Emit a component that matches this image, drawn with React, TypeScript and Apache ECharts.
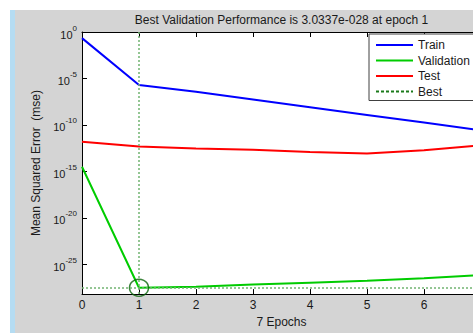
import React, { useEffect, useRef } from "react";
import * as echarts from "echarts";

const titleText = "Best Validation Performance is 3.0337e-028 at epoch 1";
const yAxisName = "Mean Squared Error  (mse)";
const xAxisName = "7 Epochs";
const epochs = [0, 1, 2, 3, 4, 5, 6, 7];
const trainMse = [2.2e-1, 2.0e-6, 3.7e-7, 5.5e-8, 8.1e-9, 1.2e-9, 1.8e-10, 2.6e-11];
const validationMse = [3.2e-15, 3.0337e-28, 3.9e-28, 6.6e-28, 1.07e-27, 1.74e-27, 3.3e-27, 7.2e-27];
const testMse = [1.6e-12, 4.7e-13, 3.0e-13, 2.1e-13, 1.2e-13, 8.5e-14, 1.95e-13, 6.3e-13];
const bestEpoch = 1;
const bestMse = 3.0337e-28;
const yTickExponents = [0, -5, -10, -15, -20, -25];
const yMinExponent = -28.2;
const yMaxExponent = 0;
const legendNames = ["Train", "Validation", "Test", "Best"];

const FONT = '"Liberation Sans", Arial, sans-serif';

export default function App() {
  const ref = useRef<HTMLDivElement>(null);
  useEffect(() => {
    if (!ref.current) return;
    const chart = echarts.init(ref.current, undefined, { renderer: "svg" });
    const toPts = (arr: number[]) => epochs.map((e, i) => [e, Math.log10(arr[i])]);
    const bestExp = Math.log10(bestMse);
    const axisLine = { show: true, onZero: false, lineStyle: { color: "#000", width: 1 } };
    const tick = { show: true, inside: true, length: 5, lineStyle: { color: "#000", width: 1 } };
    chart.setOption({
      animation: false,
      backgroundColor: "#d4d4d4",
      textStyle: { fontFamily: FONT },
      graphic: [
        { type: "rect", shape: { x: 0, y: 0, width: 520, height: 10 }, style: { fill: "#ffffff" }, silent: true },
        { type: "rect", shape: { x: 0, y: 0, width: 10, height: 333 }, style: { fill: "#ffffff" }, silent: true },
        { type: "rect", shape: { x: 10, y: 10, width: 5, height: 323 }, style: { fill: "#b5dcf2" }, silent: true },
        {
          type: "text",
          x: 281.5,
          y: 20,
          style: {
            text: titleText,
            font: `12px ${FONT}`,
            fill: "#1a1a1a",
            textAlign: "center",
            textVerticalAlign: "middle",
          },
        },
      ],
      grid: {
        left: 82,
        top: 32,
        width: 399,
        height: 267,
        show: true,
        backgroundColor: "#ffffff",
        borderWidth: 0,
      },
      legend: {
        data: legendNames,
        orient: "vertical",
        left: 369,
        top: 34,
        backgroundColor: "#ffffff",
        borderColor: "#404040",
        borderWidth: 1,
        borderRadius: 0,
        padding: [5, 8, 3, 6],
        itemWidth: 37,
        itemHeight: 10,
        itemGap: 3.5,
        textStyle: { fontSize: 12, color: "#1a1a1a", fontFamily: FONT },
      },
      xAxis: [
        {
          type: "value",
          position: "bottom",
          min: 0,
          max: 7,
          interval: 1,
          name: xAxisName,
          nameLocation: "middle",
          nameGap: 15,
          nameTextStyle: { fontSize: 12, color: "#1a1a1a", verticalAlign: "top" },
          axisLine,
          axisTick: tick,
          axisLabel: { show: true, margin: 5, fontSize: 12, color: "#1a1a1a", showMaxLabel: false },
          splitLine: { show: false },
        },
        {
          type: "value",
          position: "top",
          min: 0,
          max: 7,
          interval: 1,
          axisLine,
          axisTick: tick,
          axisLabel: { show: false },
          splitLine: { show: false },
        },
      ],
      yAxis: {
        type: "value",
        min: yMinExponent,
        max: yMaxExponent,
        name: yAxisName,
        nameLocation: "middle",
        nameGap: 35,
        nameRotate: 90,
        nameTextStyle: { fontSize: 12, color: "#1a1a1a" },
        axisLine,
        axisTick: { ...tick, customValues: yTickExponents },
        axisLabel: {
          show: true,
          margin: 5,
          customValues: yTickExponents,
          formatter: (v: number) => `{b|10}{e|${Math.round(v)}}`,
          rich: {
            b: { fontSize: 11, color: "#1a1a1a", fontFamily: FONT, verticalAlign: "bottom", lineHeight: 16 },
            e: { fontSize: 8, color: "#1a1a1a", fontFamily: FONT, verticalAlign: "top", lineHeight: 16 },
          },
        },
        splitLine: { show: false },
      },
      series: [
        {
          name: "Train",
          type: "line",
          data: toPts(trainMse),
          showSymbol: false,
          symbol: "none",
          lineStyle: { color: "#0000ff", width: 2 },
          itemStyle: { color: "#0000ff", opacity: 0 },
          z: 3,
        },
        {
          name: "Validation",
          type: "line",
          data: toPts(validationMse),
          showSymbol: false,
          symbol: "none",
          lineStyle: { color: "#00cc00", width: 2 },
          itemStyle: { color: "#00cc00", opacity: 0 },
          z: 3,
        },
        {
          name: "Test",
          type: "line",
          data: toPts(testMse),
          showSymbol: false,
          symbol: "none",
          lineStyle: { color: "#ff0000", width: 2 },
          itemStyle: { color: "#ff0000", opacity: 0 },
          z: 3,
        },
        {
          name: "Best",
          type: "line",
          data: [[bestEpoch, bestExp]],
          showSymbol: false,
          symbol: "none",
          lineStyle: { color: "#1a7a1a", width: 1, type: [3, 2] },
          itemStyle: { color: "#1a7a1a", opacity: 0 },
          z: 2,
          markLine: {
            silent: true,
            symbol: "none",
            label: { show: false },
            lineStyle: { color: "#72b472", width: 1.5, type: [2, 2], opacity: 1 },
            data: [{ xAxis: bestEpoch }, { yAxis: bestExp }],
          },
        },
        {
          name: "BestCircle",
          type: "scatter",
          data: [[bestEpoch, bestExp]],
          symbol: "circle",
          symbolSize: [19, 17],
          itemStyle: { color: "rgba(0,0,0,0)", borderColor: "#0a640a", borderWidth: 1.5 },
          z: 4,
        },
      ],
    });
    return () => chart.dispose();
  }, []);
  return (
    <div style={{ position: "fixed", left: 0, top: 0, width: 473, height: 333, overflow: "hidden" }}>
      <div ref={ref} style={{ width: 520, height: 333 }} />
    </div>
  );
}
